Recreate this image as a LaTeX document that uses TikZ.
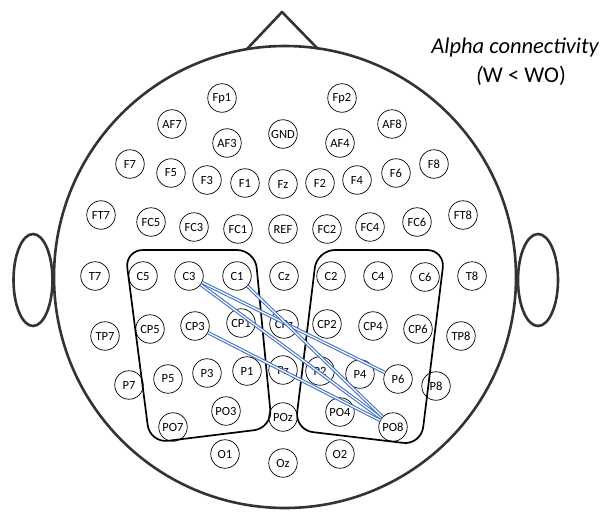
\documentclass[tikz,border=0pt]{standalone}
\usepackage{fontspec}
\setmainfont{Carlito}
\definecolor{linkblue}{RGB}{68,114,196}
\begin{document}
\begin{tikzpicture}[x=1pt,y=-1pt,
  headline/.style={draw=black!80, line width=2.6pt},
  electrode/.style={circle, draw=black, line width=0.7pt, minimum size=28.5pt, inner sep=0pt, font=\fontsize{12.5}{13}\selectfont},
  region/.style={draw=black, line width=1.7pt, rounded corners=18pt},
  conn/.style={draw=linkblue, line width=1.1pt, double=white, double distance=1.2pt},
  caption/.style={font=\fontsize{22.5}{25}\selectfont},
  captionit/.style={font=\fontsize{22.5}{25}\selectfont\itshape}
]
\useasboundingbox (0,0) rectangle (607,511);

% head outline, nose and ears
\draw[headline] (285,277) circle (231);
\draw[headline, line join=round] (247,49) -- (282,12) -- (318,49);
\draw[headline] (33,280) ellipse (19.5 and 46);
\draw[headline] (538,280) ellipse (20 and 46);

% title
\node[captionit] (title) at (515,48) {Alpha connectivity};
\node[caption] (cond) at (521,76) {{\itshape(}W < WO)};

% regions of interest
\draw[region] (125,250) -- (255,250) -- (272,428) -- (150,443) -- cycle;
\draw[region] (317,250) -- (445,250) -- (421,445) -- (295,430) -- cycle;

% electrodes
\foreach \n/\x/\y in {
  Fp1/222/98, Fp2/342/98,
  AF7/172/124, AF3/227/143, GND/283/134, AF4/340/143, AF8/392/124,
  F7/130/164, F5/171/173, F3/207/180, F1/245/183, Fz/283/184, F2/320/183, F4/357/180, F6/396/173, F8/434/164,
  FT7/101/215, FC5/151/222, FC3/194/227, FC1/238/229, REF/283/229, FC2/327/229, FC4/370/227, FC6/417/222, FT8/463/215,
  T7/95/276, C5/143/276, C3/189/276, C1/237/276, Cz/284/276, C2/331/276, C4/378/276, C6/425/277, T8/472/276,
  TP7/105/336, CP5/150/329, CP3/195/326, CP1/241/323, CPz/284/324, CP2/327/324, CP4/373/326, CP6/418/329, TP8/461/336,
  P7/129/385, P5/168/379, P3/207/373, P1/247/371, Pz/283/370, P2/320/371, P4/360/374, P6/398/379, P8/436/386,
  PO7/173/427, PO3/226/411, POz/283/417, PO4/340/412, PO8/393/427,
  O1/225/454, Oz/283/463, O2/340/454}
  \node[electrode] (\n) at (\x,\y) {\n};

% alpha-band links
\draw[conn] (C3) -- (P6);
\draw[conn] (C3) -- (PO8);
\draw[conn] (C1) -- (PO8);
\draw[conn] (CP3) -- (PO8);
\end{tikzpicture}
\end{document}
